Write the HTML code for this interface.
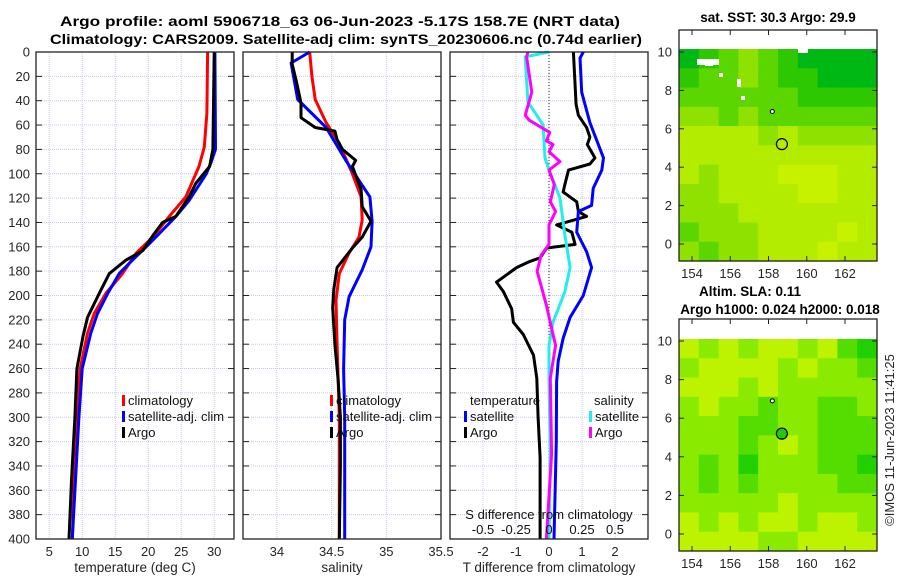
<!DOCTYPE html>
<html><head><meta charset="utf-8">
<style>
html,body{margin:0;padding:0;background:#fff;}
svg{display:block;font-family:"Liberation Sans","DejaVu Sans",sans-serif;}
</style></head>
<body>
<svg id="fig" width="900" height="580" viewBox="0 0 900 580" xmlns="http://www.w3.org/2000/svg">
<text x="340" y="26" text-anchor="middle" font-size="13.5" font-weight="bold" textLength="560" lengthAdjust="spacingAndGlyphs">Argo profile: aoml 5906718_63 06-Jun-2023 -5.17S 158.7E (NRT data)</text>
<text x="346" y="44" text-anchor="middle" font-size="13.5" font-weight="bold" textLength="592" lengthAdjust="spacingAndGlyphs">Climatology: CARS2009. Satellite-adj clim: synTS_20230606.nc (0.74d earlier)</text>
<g id="layer"></g>
</svg>
<script>
// ---------- data ----------
const depthTicks=[0,20,40,60,80,100,120,140,160,180,200,220,240,260,280,300,320,340,360,380,400];
const tempTicks=[5,10,15,20,25,30];
const salTicks=[34,34.5,35,35.5];
const salTickLabels=["34","34.5","35","35.5"];
const tdiffTicks=[-2,-1,0,1,2];
const sdiffTicks=[-0.5,-0.25,0,0.25,0.5];
const sdiffTickLabels=["-0.5","-0.25","0","0.25","0.5"];

const tClimDepth=[0,50,78,94,119,135,152,165,182,198,215,231,260,300,400];
const tClimVal=[29.0,28.9,28.5,27.7,25.7,23.2,20.7,18.2,16.1,13.6,11.8,10.8,9.7,9.1,8.5];
const tSatDepth=[0,80,91,100,122,135,149,160,171,182,198,215,231,260,300,400];
const tSatVal=[30.1,30.2,29.5,28.8,26.2,24.2,21.7,19.7,17.6,15.6,13.9,12.3,11.3,10.0,9.5,8.5];
const tArgoDepth=[0,80,94,108,119,135,140,150,163,171,182,198,218,234,260,300,350,400];
const tArgoVal=[30.0,29.8,29.3,27.2,26.2,24.2,22.2,20.8,19.2,16.6,14.1,12.6,10.8,10.1,9.2,8.9,8.4,8.0];

const sClimDepth=[0,20,39,58,75,100,119,138,152,165,182,204,240,300,400];
const sClimVal=[34.30,34.32,34.35,34.45,34.57,34.69,34.77,34.78,34.75,34.66,34.57,34.54,34.55,34.57,34.57];
const sSatDepth=[0,9,39,62,89,119,139,160,179,201,220,260,300,400];
const sSatVal=[34.30,34.13,34.19,34.45,34.63,34.85,34.87,34.86,34.78,34.66,34.62,34.61,34.62,34.62];
const sArgoDepth=[0,10,25,42,54,62,65,72,80,89,94,113,127,139,152,161,177,195,210,240,270,300,340,400];
const sArgoVal=[34.14,34.14,34.18,34.22,34.22,34.35,34.53,34.55,34.60,34.72,34.69,34.77,34.78,34.86,34.78,34.69,34.55,34.52,34.51,34.53,34.56,34.58,34.58,34.57];

const dTArgoDepth=[0,43,52,62,70,76,87,92,97,109,115,123,131,135,142,148,158,161,169,172,177,189,197,211,222,232,249,268,300,333,400];
const dTArgoVal=[0.74,0.82,0.89,1.14,1.24,1.16,1.39,1.24,0.59,0.48,0.43,0.84,0.89,1.14,0.23,0.69,0.79,-0.07,-0.27,-0.58,-0.98,-1.59,-1.38,-1.13,-1.08,-0.78,-0.47,-0.37,-0.33,-0.27,-0.27];
const dTSatDepth=[0,5,33,58,87,97,112,126,131,148,164,177,200,218,235,254,271,320,400];
const dTSatVal=[1.04,0.94,0.99,1.24,1.65,1.60,1.34,1.29,0.89,0.84,1.14,1.29,1.04,0.64,0.43,0.28,0.23,0.22,0.15];
const dSSatDepth=[0,4,41,60,87,97,120,150,177,197,222,241,268,330,400];
const dSSatVal=[0.0,-0.18,-0.16,-0.045,-0.03,0.0,0.083,0.12,0.16,0.12,0.03,0.0,0.0,0.01,0.0];
const dSArgoDepth=[0,4,33,52,56,66,73,76,82,90,97,109,123,131,142,158,167,180,208,232,241,268,330,400];
const dSArgoVal=[-0.16,-0.17,-0.13,-0.18,-0.15,0.005,-0.02,0.03,0.0,0.083,0.0,0.04,0.01,0.05,0.0,0.0,-0.06,-0.09,-0.02,0.03,0.05,0.01,0.02,-0.02];

const mapLatTicks=[0,2,4,6,8,10];
const mapLonTicks=[154,156,158,160,162];
const sstGrid=[
[0,1,2,3,2,1,0,0,0,0],
[1,2,2,3,2,1,1,0,0,0],
[2,2,2,2,2,2,1,1,1,1],
[3,3,2,3,2,2,2,2,2,2],
[4,4,4,4,3,4,3,3,3,3],
[4,4,4,4,4,4,4,4,4,4],
[4,3,4,4,4,5,5,5,4,4],
[3,3,4,4,4,4,5,5,4,4],
[3,3,3,4,4,4,4,4,4,4],
[2,3,3,3,4,4,4,4,5,4],
[3,2,3,3,4,4,4,5,4,4]];
const slaGrid=[
[4,3,4,3,4,4,3,4,2,1],
[3,4,4,4,4,3,4,3,3,2],
[4,4,4,3,4,3,3,3,3,3],
[3,4,3,3,2,3,3,2,2,3],
[3,3,3,2,2,3,3,2,2,2],
[3,3,3,2,3,4,3,2,2,2],
[3,2,3,1,3,3,3,2,2,1],
[3,2,3,2,3,3,3,3,2,2],
[3,3,3,3,3,4,3,3,3,3],
[4,3,4,3,4,4,3,4,4,3],
[4,4,4,4,3,3,4,4,4,4]];
const sstPalette=["#00b814","#2ec800","#5cd600","#8fe200","#b4ec00","#c6f200"];
const slaPalette=["#00c000","#22d000","#55dd00","#8aea00","#bdf300"];
const argoLon=158.7, argoLat=5.2;

// ---------- helpers ----------
const NS="http://www.w3.org/2000/svg";
const L=document.getElementById('layer');
function mk(tag,attrs,parent){const e=document.createElementNS(NS,tag);for(const k in attrs)e.setAttribute(k,attrs[k]);(parent||L).appendChild(e);return e;}
const TOP=52,BOT=539;
const yD=d=>TOP+(d/400)*(BOT-TOP);
function lin(d0,d1,r0,r1){return v=>r0+(v-d0)/(d1-d0)*(r1-r0);}
const P1={x0:36,x1:234}, P2={x0:243,x1:441}, P3={x0:450,x1:648};
const xT=lin(3,33,P1.x0,P1.x1);
const xS=lin(33.69,35.5,P2.x0,P2.x1);
const xdT=lin(-3,3,P3.x0,P3.x1);
const xdS=lin(-0.75,0.75,P3.x0,P3.x1);

function panelFrame(P,name,xticks,xf,labels,xlabel,showY){
  const g=mk('g',{});
  
  
  depthTicks.forEach(d=>{
    const y=yD(d);
    const gl=mk('line',{x1:P.x0,x2:P.x1,y1:y,y2:y,stroke:'#c5cbe6','stroke-width':1,'stroke-dasharray':'1,1'},g);
    
    
    mk('line',{x1:P.x0,x2:P.x0+6,y1:y,y2:y,stroke:'#222','stroke-width':1},g);
    mk('line',{x1:P.x1-6,x2:P.x1,y1:y,y2:y,stroke:'#222','stroke-width':1},g);
    if(showY){
      const t=mk('text',{x:30,y:y+4.5,'text-anchor':'end','font-size':13,fill:'#262626'},g);
      t.textContent=d;
      
      
    }
  });
  xticks.forEach((v,i)=>{
    const x=xf(v);
    const gl=mk('line',{x1:x,x2:x,y1:TOP,y2:BOT,stroke:'#c5cbe6','stroke-width':1,'stroke-dasharray':'1,1'},g);
    
    
    const t=mk('text',{x:x,y:556,'text-anchor':'middle','font-size':13,fill:'#262626'},g);
    t.textContent=labels[i];
    
    
  });
  const xl=mk('text',{x:(P.x0+P.x1)/2,y:572,'text-anchor':'middle','font-size':13.5,fill:'#262626'},g);
  xl.textContent=xlabel;
  
  
  return g;
}
function frameBox(P){
  const r=mk('rect',{x:P.x0,y:TOP,width:P.x1-P.x0,height:BOT-TOP,fill:'none',stroke:'#222','stroke-width':1.3});
  
  
}
function curve(depths,vals,xf,color,name){
  const pts=depths.map((d,i)=>xf(vals[i]).toFixed(1)+','+yD(d).toFixed(1)).join(' ');
  const p=mk('polyline',{points:pts,fill:'none',stroke:color,'stroke-width':3,'stroke-linejoin':'round'});
  
  
}
function legendEntry(x,y,color,label,name){
  const g=mk('g',{});
  
  
  if(color) mk('rect',{x:x-6,y:y-10,width:3,height:11,fill:color},g);
  const t=mk('text',{x:x,y:y,'font-size':13,fill:'#111'},g);
  t.textContent=label;
}

// Panel 1: temperature
panelFrame(P1,'temperature-panel',tempTicks,xT,tempTicks.map(String),'temperature (deg C)',true);
curve(tClimDepth,tClimVal,xT,'#ff0000','temp-climatology-line');
curve(tSatDepth,tSatVal,xT,'#0000ff','temp-satellite-line');
curve(tArgoDepth,tArgoVal,xT,'#000000','temp-argo-line');
frameBox(P1);
legendEntry(128,405,'#ff0000','climatology','legend-climatology');
legendEntry(128,421,'#0000ff','satellite-adj. clim','legend-satellite-adj');
legendEntry(128,437,'#000000','Argo','legend-argo');

// Panel 2: salinity
panelFrame(P2,'salinity-panel',salTicks,xS,salTickLabels,'salinity',false);
curve(sClimDepth,sClimVal,xS,'#ff0000','sal-climatology-line');
curve(sSatDepth,sSatVal,xS,'#0000ff','sal-satellite-line');
curve(sArgoDepth,sArgoVal,xS,'#000000','sal-argo-line');
frameBox(P2);
legendEntry(336,405,'#ff0000','climatology','legend-climatology-2');
legendEntry(336,421,'#0000ff','satellite-adj. clim','legend-satellite-adj-2');
legendEntry(336,437,'#000000','Argo','legend-argo-2');

// Panel 3: differences
panelFrame(P3,'difference-panel',tdiffTicks,xdT,tdiffTicks.map(String),'T difference from climatology',false);
const zl=mk('line',{x1:xdT(0),x2:xdT(0),y1:TOP,y2:BOT,stroke:'#333','stroke-width':1,'stroke-dasharray':'1,2'});


curve(dTArgoDepth,dTArgoVal,xdT,'#000000','tdiff-argo-line');
curve(dTSatDepth,dTSatVal,xdT,'#0000ff','tdiff-satellite-line');
curve(dSSatDepth,dSSatVal,xdS,'#22eeee','sdiff-satellite-line');
curve(dSArgoDepth,dSArgoVal,xdS,'#ff00ff','sdiff-argo-line');
frameBox(P3);
{
  const t=mk('text',{x:470,y:405,'font-size':13,fill:'#111'});t.textContent='temperature';
  
  
  const s=mk('text',{x:594,y:405,'font-size':13,fill:'#111'});s.textContent='salinity';
  
  
}
legendEntry(470,421,'#0000ff','satellite','legend-t-satellite');
legendEntry(470,437,'#000000','Argo','legend-t-argo');
legendEntry(595,421,'#22eeee','satellite','legend-s-satellite');
legendEntry(595,437,'#ff00ff','Argo','legend-s-argo');
{
  const t=mk('text',{x:549,y:519,'text-anchor':'middle','font-size':13,fill:'#111'});
  t.textContent='S difference from climatology';
  
  
  sdiffTicks.forEach((v,i)=>{
    const l=mk('text',{x:xdS(v),y:534,'text-anchor':'middle','font-size':13,fill:'#111'});
    l.textContent=sdiffTickLabels[i];
    
    
  });
}

// ---------- maps ----------
function drawMap(M,grid,pal,name,filledMarker){
  const g=mk('g',{});
  
  
  mk('rect',{x:M.x0,y:M.y0,width:M.x1-M.x0,height:M.y1-M.y0,fill:'#fff'},g);
  const rows=grid.length, cols=grid[0].length;
  const cw=(M.x1-M.x0)/cols, ch=(M.y1-M.dtop)/rows;
  grid.forEach((row,r)=>row.forEach((v,c)=>{
    const cell=mk('rect',{x:(M.x0+c*cw).toFixed(2),y:(M.dtop+r*ch).toFixed(2),width:(cw+0.6).toFixed(2),height:(ch+0.6).toFixed(2),fill:pal[v]},g);
    
    
  }));
  const lonF=lin(154,162,692,845), latF=lin(0,10,M.lat0,M.lat10);
  mapLatTicks.forEach(v=>{
    const y=latF(v);
    mk('line',{x1:M.x0,x2:M.x0+5,y1:y,y2:y,stroke:'#222'},g);
    mk('line',{x1:M.x1-5,x2:M.x1,y1:y,y2:y,stroke:'#222'},g);
    const t=mk('text',{x:M.x0-7,y:y+4.5,'text-anchor':'end','font-size':13,fill:'#262626'},g);
    t.textContent=v;
    
    
  });
  mapLonTicks.forEach(v=>{
    const x=lonF(v);
    mk('line',{x1:x,x2:x,y1:M.y1-5,y2:M.y1,stroke:'#222'},g);
    mk('line',{x1:x,x2:x,y1:M.y0,y2:M.y0+5,stroke:'#222'},g);
    const t=mk('text',{x:x,y:M.y1+17,'text-anchor':'middle','font-size':13,fill:'#262626'},g);
    t.textContent=v;
    
    
  });
  const mkc=mk('circle',{cx:lonF(argoLon),cy:latF(argoLat),r:5.5,fill:filledMarker?'#22cc00':'none',stroke:'#000','stroke-width':1.2},g);
  
  
  mk('circle',{cx:lonF(158.2),cy:latF(6.9),r:2,fill:'#fff',stroke:'#000','stroke-width':1},g);
  const b=mk('rect',{x:M.x0,y:M.y0,width:M.x1-M.x0,height:M.y1-M.y0,fill:'none',stroke:'#222','stroke-width':1.3},g);
  
  
  return g;
}
const M1={x0:679,x1:877,y0:30,y1:261,dtop:49,lat0:244,lat10:52};
drawMap(M1,sstGrid,sstPalette,'sst-map',false);
[[697,59,22,6],[705,62,8,4],[719,73,4,4],[737,79,4,8],[741,96,4,4],[798,49,10,4]].forEach(p=>{
  const r=mk('rect',{x:p[0],y:p[1],width:p[2],height:p[3],fill:'#fff'});
  
  
});
const M2={x0:679,x1:877,y0:319,y1:551,dtop:339,lat0:534,lat10:341};
drawMap(M2,slaGrid,slaPalette,'sla-map',true);

function txt(x,y,s,attrs,name){const t=mk('text',Object.assign({x:x,y:y,'font-size':13.5,'font-weight':'bold','text-anchor':'middle'},attrs||{}));t.textContent=s;
  
  return t;}
txt(778,22,'sat. SST: 30.3 Argo: 29.9',{},'sst-map-title');
txt(778,296,'Altim. SLA: 0.11',{x:750},'sla-map-title');
txt(780,314,'Argo h1000: 0.024 h2000: 0.018',{},'sla-map-subtitle');
{
  const t=mk('text',{x:0,y:0,'font-size':13,fill:'#262626','text-anchor':'middle',transform:'translate(894,440) rotate(-90)'});
  t.textContent='©IMOS 11-Jun-2023 11:41:25';
  
  
}
</script>
</body></html>
